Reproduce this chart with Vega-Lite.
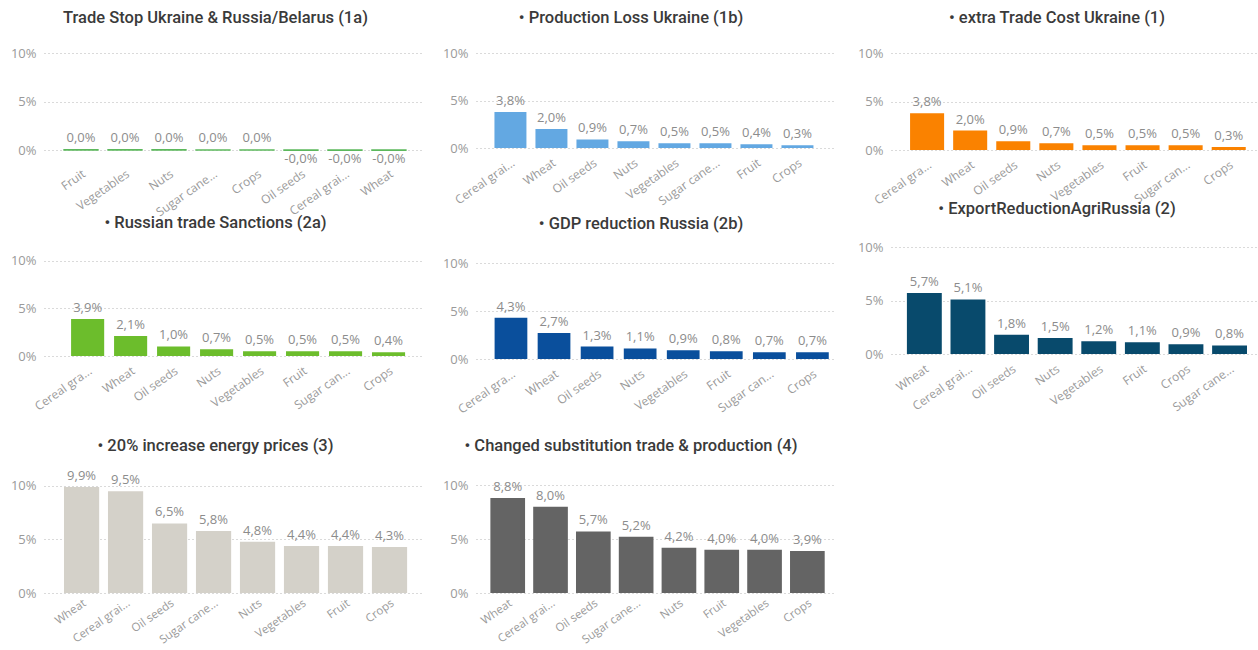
{
  "$schema": "https://vega.github.io/schema/vega-lite/v6.json",
  "padding": {"left": 10, "top": 9, "right": 0, "bottom": 0},
  "background": "white",
  "config": {
    "locale": {"number": {"decimal": ",", "thousands": ".", "grouping": [3], "currency": ["", " €"], "minus": "-"}},
    "view": {"stroke": null},
    "title": {"font": "Roboto", "fontSize": 16.5, "fontWeight": 500, "color": "#3a3a3a", "anchor": "middle", "baseline": "bottom"},
    "axis": {"domain": false, "ticks": false, "labelColor": "#9a9a9a", "labelFont": "Open Sans", "labelFontSize": 12, "title": null},
    "axisX": {"grid": false, "labelAngle": -35, "labelPadding": 9},
    "axisY": {"grid": true, "gridColor": "#b4b4b4", "gridDash": [1, 3], "gridWidth": 1, "labelPadding": 8, "labelFontSize": 13, "values": [0, 0.05, 0.1], "format": ".0%"},
    "text": {"font": "Open Sans", "fontSize": 13, "color": "#8c8c8c"}
  },
  "datasets": {
    "p1a": [
      {"crop": "Fruit", "value": 0.0002},
      {"crop": "Vegetables", "value": 0.0002},
      {"crop": "Nuts", "value": 0.0002},
      {"crop": "Sugar cane...", "value": 0.0001},
      {"crop": "Crops", "value": 0.0001},
      {"crop": "Oil seeds", "value": -0.0002},
      {"crop": "Cereal grai...", "value": -0.0002},
      {"crop": "Wheat", "value": -0.0002}
    ],
    "p1b": [
      {"crop": "Cereal grai...", "value": 0.038},
      {"crop": "Wheat", "value": 0.020},
      {"crop": "Oil seeds", "value": 0.009},
      {"crop": "Nuts", "value": 0.007},
      {"crop": "Vegetables", "value": 0.005},
      {"crop": "Sugar cane...", "value": 0.005},
      {"crop": "Fruit", "value": 0.004},
      {"crop": "Crops", "value": 0.003}
    ],
    "p1": [
      {"crop": "Cereal gra...", "value": 0.038},
      {"crop": "Wheat", "value": 0.020},
      {"crop": "Oil seeds", "value": 0.009},
      {"crop": "Nuts", "value": 0.007},
      {"crop": "Vegetables", "value": 0.005},
      {"crop": "Fruit", "value": 0.005},
      {"crop": "Sugar can...", "value": 0.005},
      {"crop": "Crops", "value": 0.003}
    ],
    "p2a": [
      {"crop": "Cereal gra...", "value": 0.039},
      {"crop": "Wheat", "value": 0.021},
      {"crop": "Oil seeds", "value": 0.010},
      {"crop": "Nuts", "value": 0.007},
      {"crop": "Vegetables", "value": 0.005},
      {"crop": "Fruit", "value": 0.005},
      {"crop": "Sugar can...", "value": 0.005},
      {"crop": "Crops", "value": 0.004}
    ],
    "p2b": [
      {"crop": "Cereal gra...", "value": 0.043},
      {"crop": "Wheat", "value": 0.027},
      {"crop": "Oil seeds", "value": 0.013},
      {"crop": "Nuts", "value": 0.011},
      {"crop": "Vegetables", "value": 0.009},
      {"crop": "Fruit", "value": 0.008},
      {"crop": "Sugar can...", "value": 0.007},
      {"crop": "Crops", "value": 0.007}
    ],
    "p2": [
      {"crop": "Wheat", "value": 0.057},
      {"crop": "Cereal grai...", "value": 0.051},
      {"crop": "Oil seeds", "value": 0.018},
      {"crop": "Nuts", "value": 0.015},
      {"crop": "Vegetables", "value": 0.012},
      {"crop": "Fruit", "value": 0.011},
      {"crop": "Crops", "value": 0.009},
      {"crop": "Sugar cane...", "value": 0.008}
    ],
    "p3": [
      {"crop": "Wheat", "value": 0.099},
      {"crop": "Cereal grai...", "value": 0.095},
      {"crop": "Oil seeds", "value": 0.065},
      {"crop": "Sugar cane...", "value": 0.058},
      {"crop": "Nuts", "value": 0.048},
      {"crop": "Vegetables", "value": 0.044},
      {"crop": "Fruit", "value": 0.044},
      {"crop": "Crops", "value": 0.043}
    ],
    "p4": [
      {"crop": "Wheat", "value": 0.088},
      {"crop": "Cereal grai...", "value": 0.080},
      {"crop": "Oil seeds", "value": 0.057},
      {"crop": "Sugar cane...", "value": 0.052},
      {"crop": "Nuts", "value": 0.042},
      {"crop": "Fruit", "value": 0.040},
      {"crop": "Vegetables", "value": 0.040},
      {"crop": "Crops", "value": 0.039}
    ]
  },
  "concat": [
    {
      "title": {"text": "Trade Stop Ukraine & Russia/Belarus (1a)", "offset": 21, "dx": -17},
      "width": 377, "height": 97,
      "data": {"name": "p1a"},
      "encoding": {
        "x": {"field": "crop", "type": "nominal", "sort": null, "scale": {"paddingInner": 0.23, "paddingOuter": 0.4, "align": 0.57}, "axis": {"labelPadding": 18}},
        "y": {"field": "value", "type": "quantitative", "scale": {"domain": [0, 0.1], "nice": false, "zero": true}}
      },
      "layer": [
        {"mark": {"type": "bar", "color": "#5cb85c", "stroke": "#5cb85c", "strokeWidth": 1.5}},
        {"mark": {"type": "text", "dy": {"expr": "datum.value < 0 ? 3 : -5"}, "baseline": {"expr": "datum.value < 0 ? 'top' : 'bottom'"}, "text": {"expr": "(datum.value < 0 ? '-' : '') + format(abs(datum.value), '.1%')"}}}
      ]
    },
    {
      "title": {"text": "• Production Loss Ukraine (1b)", "offset": 21, "dx": -25},
      "width": 360, "height": 95,
      "data": {"name": "p1b"},
      "encoding": {
        "x": {"field": "crop", "type": "nominal", "sort": null, "scale": {"paddingInner": 0.22, "paddingOuter": 0.5, "align": 0.45}},
        "y": {"field": "value", "type": "quantitative", "scale": {"domain": [0, 0.1], "nice": false, "zero": true}}
      },
      "layer": [
        {"mark": {"type": "bar", "color": "#63a8e2"}},
        {"mark": {"type": "text", "dy": -4, "baseline": "bottom"}, "encoding": {"text": {"field": "value", "format": ".1%"}}}
      ]
    },
    {
      "title": {"text": "• extra Trade Cost Ukraine (1)", "offset": 21, "dx": -18},
      "width": 368, "height": 97,
      "data": {"name": "p1"},
      "encoding": {
        "x": {"field": "crop", "type": "nominal", "sort": null, "scale": {"paddingInner": 0.21, "paddingOuter": 0.375, "align": 0.59}},
        "y": {"field": "value", "type": "quantitative", "scale": {"domain": [0, 0.1], "nice": false, "zero": true}}
      },
      "layer": [
        {"mark": {"type": "bar", "color": "#fa8200"}},
        {"mark": {"type": "text", "dy": -4, "baseline": "bottom"}, "encoding": {"text": {"field": "value", "format": ".1%"}}}
      ]
    },
    {
      "title": {"text": "• Russian trade Sanctions (2a)", "offset": 16, "dx": -17},
      "width": 377, "height": 109,
      "data": {"name": "p2a"},
      "encoding": {
        "x": {"field": "crop", "type": "nominal", "sort": null, "scale": {"paddingInner": 0.23, "paddingOuter": 0.5, "align": 0.63}},
        "y": {"field": "value", "type": "quantitative", "scale": {"domain": [0, 0.1147], "nice": false, "zero": true}}
      },
      "layer": [
        {"mark": {"type": "bar", "color": "#6cbd2c"}},
        {"mark": {"type": "text", "dy": -4, "baseline": "bottom"}, "encoding": {"text": {"field": "value", "format": ".1%"}}}
      ]
    },
    {
      "title": {"text": "• GDP reduction Russia (2b)", "offset": 15, "dx": -15},
      "width": 360, "height": 112,
      "data": {"name": "p2b"},
      "encoding": {
        "x": {"field": "crop", "type": "nominal", "sort": null, "scale": {"paddingInner": 0.24, "paddingOuter": 0.3, "align": 0.72}},
        "y": {"field": "value", "type": "quantitative", "scale": {"domain": [0, 0.1167], "nice": false, "zero": true}}
      },
      "layer": [
        {"mark": {"type": "bar", "color": "#0a4f9c"}},
        {"mark": {"type": "text", "dy": -4, "baseline": "bottom"}, "encoding": {"text": {"field": "value", "format": ".1%"}}}
      ]
    },
    {
      "title": {"text": "• ExportReductionAgriRussia (2)", "offset": 24, "dx": -18},
      "width": 368, "height": 107,
      "data": {"name": "p2"},
      "encoding": {
        "x": {"field": "crop", "type": "nominal", "sort": null, "scale": {"paddingInner": 0.2, "paddingOuter": 0.32, "align": 0.57}},
        "y": {"field": "value", "type": "quantitative", "scale": {"domain": [0, 0.1], "nice": false, "zero": true}}
      },
      "layer": [
        {"mark": {"type": "bar", "color": "#084a6c"}},
        {"mark": {"type": "text", "dy": -4, "baseline": "bottom"}, "encoding": {"text": {"field": "value", "format": ".1%"}}}
      ]
    },
    {
      "title": {"text": "• 20% increase energy prices (3)", "offset": 2, "dx": -17},
      "width": 377, "height": 137,
      "data": {"name": "p3"},
      "encoding": {
        "x": {"field": "crop", "type": "nominal", "sort": null, "scale": {"paddingInner": 0.2, "paddingOuter": 0.385, "align": 0.59}, "axis": {"labelPadding": 4, "labelFontSize": 11.5}},
        "y": {"field": "value", "type": "quantitative", "scale": {"domain": [0, 0.128], "nice": false, "zero": true}}
      },
      "layer": [
        {"mark": {"type": "bar", "color": "#d4d1c9"}},
        {"mark": {"type": "text", "dy": -4, "baseline": "bottom"}, "encoding": {"text": {"field": "value", "format": ".1%"}}}
      ]
    },
    {
      "title": {"text": "• Changed substitution trade & production (4)", "offset": 2, "dx": -25},
      "width": 360, "height": 137,
      "data": {"name": "p4"},
      "encoding": {
        "x": {"field": "crop", "type": "nominal", "sort": null, "scale": {"paddingInner": 0.19, "paddingOuter": 0.3, "align": 0.56}, "axis": {"labelPadding": 4, "labelFontSize": 11.5}},
        "y": {"field": "value", "type": "quantitative", "scale": {"domain": [0, 0.1269], "nice": false, "zero": true}}
      },
      "layer": [
        {"mark": {"type": "bar", "color": "#646464"}},
        {"mark": {"type": "text", "dy": -4, "baseline": "bottom"}, "encoding": {"text": {"field": "value", "format": ".1%"}}}
      ]
    }
  ],
  "columns": 3,
  "spacing": {"row": 97, "column": 55},
  "bounds": "flush",
  "align": "each"
}
